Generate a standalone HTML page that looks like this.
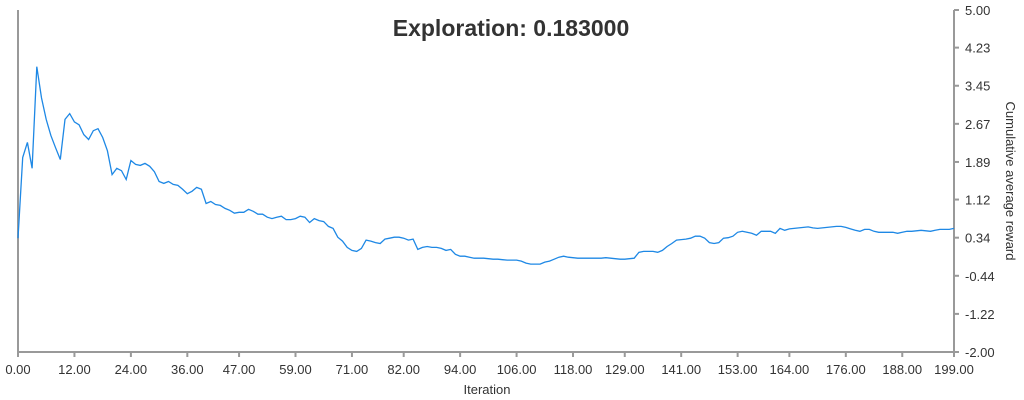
<!DOCTYPE html>
<html><head><meta charset="utf-8"><style>
body{margin:0;background:#fff;}
svg{display:block;font-family:"Liberation Sans",sans-serif;}
</style></head><body>
<svg id="chart" width="1024" height="400" viewBox="0 0 1024 400">
<text x="511" y="36" text-anchor="middle" font-size="23" font-weight="bold" fill="#333">Exploration: 0.183000</text>
<g id="plot"></g>
<text x="487" y="394" text-anchor="middle" font-size="13" fill="#333">Iteration</text>
<text transform="translate(1006,181) rotate(90)" text-anchor="middle" font-size="13" fill="#333">Cumulative average reward</text>
</svg>
<script>
const rewards = [0.33,1.98,2.29,1.76,3.84,3.20,2.76,2.43,2.18,1.94,2.76,2.88,2.71,2.65,2.45,2.35,2.53,2.57,2.39,2.12,
1.63,1.76,1.71,1.53,1.92,1.84,1.82,1.86,1.80,1.69,1.49,1.45,1.49,1.43,1.41,1.33,1.24,1.29,1.37,1.33,
1.04,1.08,1.02,1.00,0.94,0.90,0.84,0.86,0.86,0.92,0.88,0.82,0.82,0.76,0.73,0.76,0.78,0.71,0.71,0.73,
0.78,0.76,0.65,0.73,0.69,0.67,0.57,0.53,0.35,0.27,0.14,0.08,0.06,0.12,0.29,0.27,0.24,0.22,0.31,0.33,
0.35,0.35,0.33,0.29,0.31,0.10,0.14,0.16,0.14,0.14,0.12,0.08,0.10,0.00,-0.04,-0.04,-0.06,-0.08,-0.08,-0.08,
-0.09,-0.10,-0.10,-0.11,-0.12,-0.12,-0.12,-0.14,-0.18,-0.20,-0.20,-0.20,-0.16,-0.14,-0.10,-0.06,-0.04,-0.06,-0.07,-0.08,
-0.08,-0.08,-0.08,-0.08,-0.08,-0.07,-0.08,-0.09,-0.10,-0.10,-0.09,-0.08,0.04,0.06,0.06,0.06,0.04,0.08,0.16,0.22,
0.29,0.30,0.31,0.33,0.37,0.37,0.33,0.24,0.22,0.24,0.33,0.34,0.37,0.45,0.47,0.45,0.43,0.39,0.47,0.47,
0.47,0.43,0.53,0.49,0.52,0.53,0.54,0.55,0.56,0.54,0.53,0.54,0.55,0.56,0.57,0.57,0.55,0.52,0.49,0.47,
0.51,0.51,0.47,0.45,0.45,0.45,0.45,0.43,0.45,0.47,0.47,0.48,0.49,0.48,0.47,0.49,0.51,0.51,0.51,0.53];
const xTicks = [0,12,24,36,47,59,71,82,94,106,118,129,141,153,164,176,188,199];
const yTicks = [-2.00,-1.22,-0.44,0.34,1.12,1.89,2.67,3.45,4.23,5.00];
const X0=18,X1=954,Y0=352,Y1=10,XMAX=199,YMIN=-2,YMAX=5;
const xs=i=>X0+(X1-X0)*i/XMAX;
const ys=v=>Y0-(Y0-Y1)*(v-YMIN)/(YMAX-YMIN);
const NS="http://www.w3.org/2000/svg";
const g=document.getElementById('plot');
function mk(t,a){const e=document.createElementNS(NS,t);for(const k in a)e.setAttribute(k,a[k]);g.appendChild(e);return e;}
let ax=mk('line',{x1:X0,y1:Y1,x2:X0,y2:Y0,stroke:'#999','stroke-width':2});


let bx=mk('line',{x1:X0,y1:Y0,x2:X1,y2:Y0,stroke:'#999','stroke-width':2});


let rx=mk('line',{x1:X1,y1:Y1,x2:X1,y2:Y0,stroke:'#999','stroke-width':2});


xTicks.forEach(t=>{
  const tk=mk('line',{x1:xs(t),y1:Y0,x2:xs(t),y2:Y0+5,stroke:'#999','stroke-width':2});
  
  
  const tx=mk('text',{x:xs(t),y:Y0+22,'text-anchor':'middle','font-size':13,fill:'#333'});
  tx.textContent=t.toFixed(2);
  
  
});
yTicks.forEach(t=>{
  const tk=mk('line',{x1:X1,y1:ys(t),x2:X1+5,y2:ys(t),stroke:'#999','stroke-width':2});
  
  
  const tx=mk('text',{x:X1+11,y:ys(t)+5,'font-size':13,fill:'#333'});
  tx.textContent=t.toFixed(2);
  
  
});
const ln=mk('polyline',{points:rewards.map((v,i)=>xs(i).toFixed(1)+','+ys(v).toFixed(1)).join(' '),fill:'none',stroke:'#1e88e5','stroke-width':1.3});


</script>
</body></html>
